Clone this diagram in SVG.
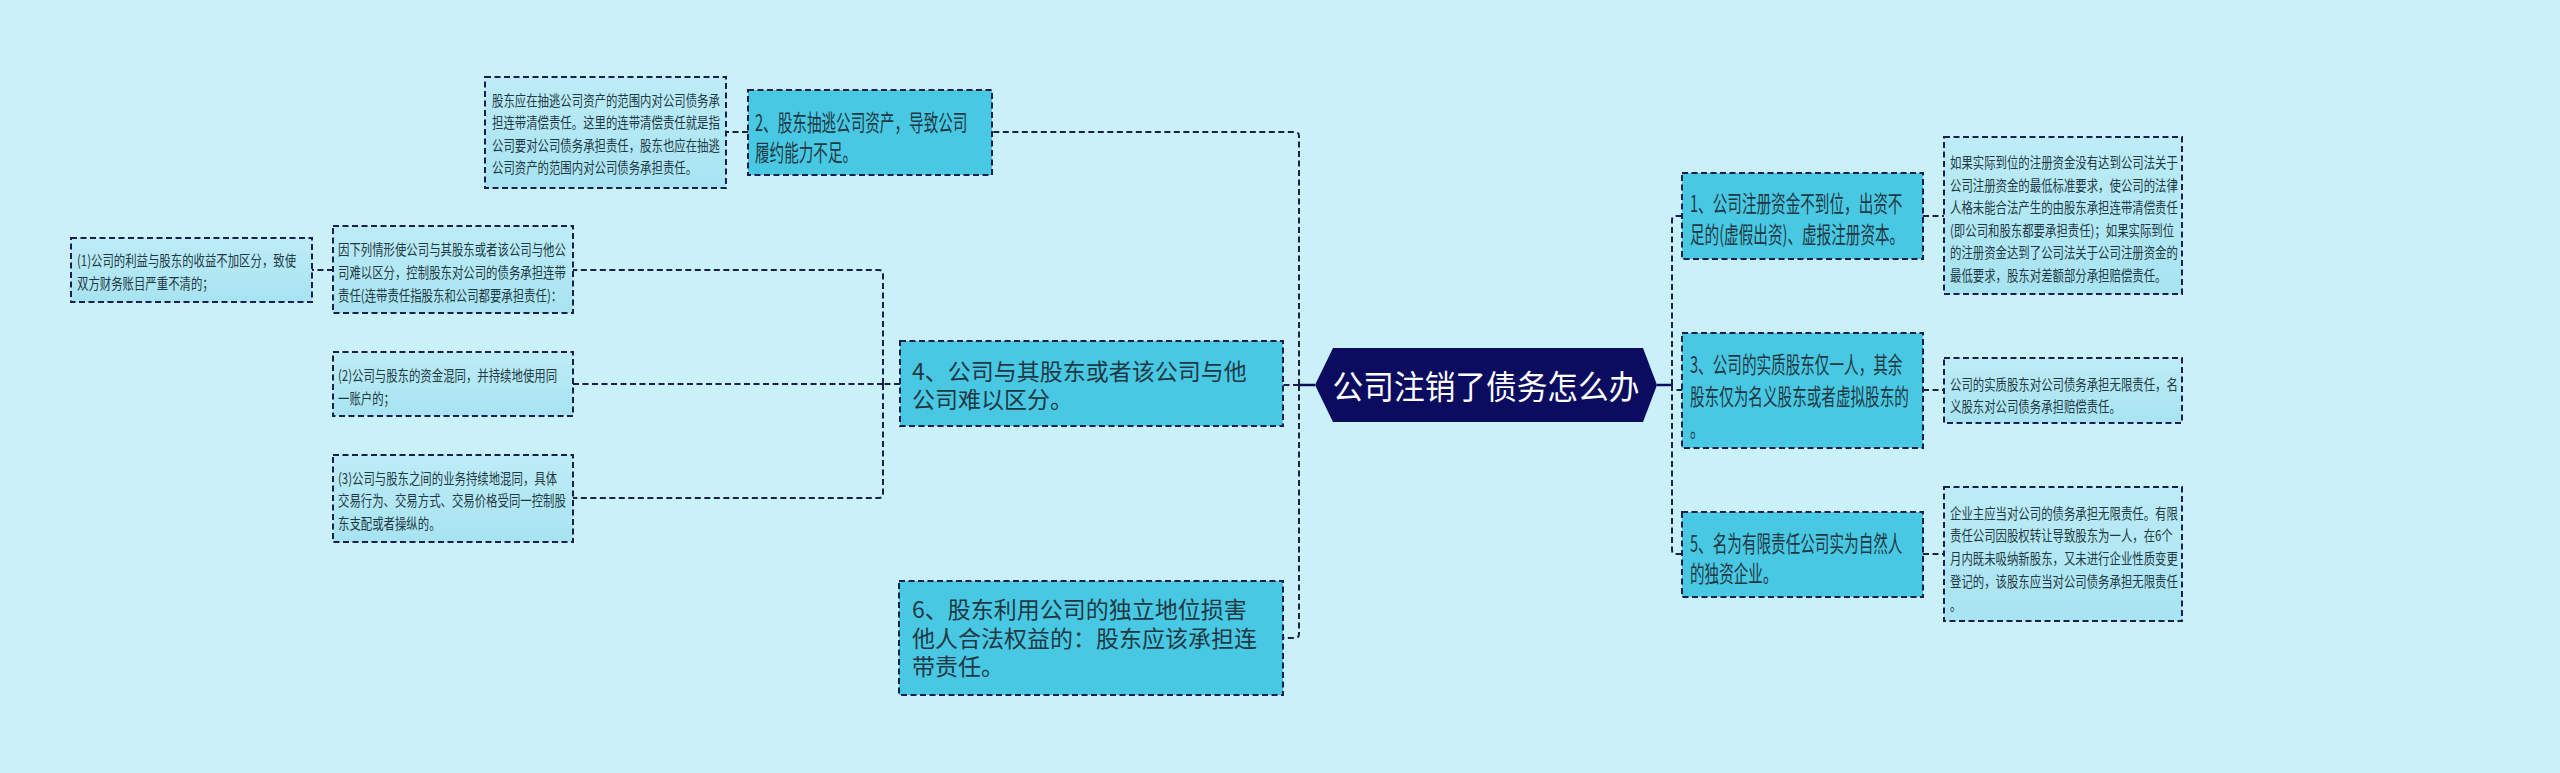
<svg xmlns="http://www.w3.org/2000/svg" width="2560" height="773" viewBox="0 0 2560 773">
<defs>
<linearGradient id="dg" x1="0" y1="0" x2="0" y2="1">
<stop offset="0" stop-color="#bdecf7"/>
<stop offset="1" stop-color="#a8e3f1"/>
</linearGradient>
<style>
.main{fill:#48c8e3;stroke:#1b1f50;stroke-width:2;stroke-dasharray:6 3.5}
.det{fill:url(#dg);stroke:#1b1f50;stroke-width:2;stroke-dasharray:6 3.5}
.con{fill:none;stroke:#1b1f50;stroke-width:2;stroke-dasharray:6 3.5}
.solid{fill:none;stroke:#0c0c5e;stroke-width:2.5}
.tm{font-family:"Noto Sans CJK SC","Noto Sans",sans-serif;font-size:23px;fill:#1f3944;dominant-baseline:central}
.td{font-family:"Noto Sans CJK SC","Noto Sans",sans-serif;font-size:15px;fill:#1f3944;dominant-baseline:central}
.tc{font-family:"Noto Sans CJK SC","Noto Sans",sans-serif;font-size:33px;fill:#ffffff;dominant-baseline:central;text-anchor:middle}
</style>
</defs>
<rect x="0" y="0" width="2560" height="773" fill="#caf0f8"/>

<g id="connectors">
<path class="solid" d="M1315,385 H1299"/>
<path class="con" d="M1299,385 V136 Q1299,132 1295,132 H992"/>
<path class="con" d="M1299,385 H1283"/>
<path class="con" d="M1299,385 V634 Q1299,638 1295,638 H1283"/>
<path class="con" d="M748,132 H726"/>
<path class="con" d="M900,384 H883"/>
<path class="con" d="M883,384 V274 Q883,270 879,270 H573"/>
<path class="con" d="M883,384 H573"/>
<path class="con" d="M883,384 V494 Q883,498 879,498 H573"/>
<path class="con" d="M333,270 H312"/>
<path class="solid" d="M1657,385 H1672"/>
<path class="con" d="M1672,385 V220 Q1672,216 1676,216 H1682"/>
<path class="con" d="M1672,385 V390 H1682"/>
<path class="con" d="M1672,385 V550 Q1672,554 1676,554 H1682"/>
<path class="con" d="M1923,216 H1944"/>
<path class="con" d="M1923,390 H1944"/>
<path class="con" d="M1923,554 H1944"/>
</g>

<g id="center">
<polygon points="1315,385 1333,348 1643,348 1657,385 1643,422 1333,422" fill="#0b0b5f"/>
<g transform="matrix(0.93 0 0 1 1486 0)"><text class="tc" x="0" y="385">公司注销了债务怎么办</text></g>
</g>

<g id="n2">
<rect class="main" x="748" y="90" width="244" height="85"/>
<g transform="matrix(0.635 0 0 1 755 0)"><text class="tm"><tspan x="0" y="121">2、股东抽逃公司资产，导致公司</tspan><tspan x="0" y="151">履约能力不足。</tspan></text></g>
</g>
<g id="n2d">
<rect class="det" x="485" y="77" width="241" height="111"/>
<g transform="matrix(0.76 0 0 1 492 0)"><text class="td"><tspan x="0" y="99">股东应在抽逃公司资产的范围内对公司债务承</tspan><tspan x="0" y="121.5">担连带清偿责任。这里的连带清偿责任就是指</tspan><tspan x="0" y="144">公司要对公司债务承担责任，股东也应在抽逃</tspan><tspan x="0" y="166.5">公司资产的范围内对公司债务承担责任。</tspan></text></g>
</g>

<g id="n4">
<rect class="main" x="900" y="341" width="383" height="85"/>
<text class="tm"><tspan x="912" y="369.5">4、公司与其股东或者该公司与他</tspan><tspan x="912" y="398">公司难以区分。</tspan></text>
</g>
<g id="n4a">
<rect class="det" x="333" y="226" width="240" height="87"/>
<g transform="matrix(0.76 0 0 1 338 0)"><text class="td"><tspan x="0" y="248">因下列情形使公司与其股东或者该公司与他公</tspan><tspan x="0" y="271">司难以区分，控制股东对公司的债务承担连带</tspan><tspan x="0" y="294">责任(连带责任指股东和公司都要承担责任)：</tspan></text></g>
</g>
<g id="n4a1">
<rect class="det" x="71" y="238" width="241" height="64"/>
<g transform="matrix(0.76 0 0 1 77 0)"><text class="td"><tspan x="0" y="259">(1)公司的利益与股东的收益不加区分，致使</tspan><tspan x="0" y="282">双方财务账目严重不清的；</tspan></text></g>
</g>
<g id="n4b">
<rect class="det" x="333" y="352" width="240" height="64"/>
<g transform="matrix(0.76 0 0 1 338 0)"><text class="td"><tspan x="0" y="374">(2)公司与股东的资金混同，并持续地使用同</tspan><tspan x="0" y="397">一账户的；</tspan></text></g>
</g>
<g id="n4c">
<rect class="det" x="333" y="455" width="240" height="87"/>
<g transform="matrix(0.76 0 0 1 338 0)"><text class="td"><tspan x="0" y="477">(3)公司与股东之间的业务持续地混同，具体</tspan><tspan x="0" y="499.5">交易行为、交易方式、交易价格受同一控制股</tspan><tspan x="0" y="522">东支配或者操纵的。</tspan></text></g>
</g>

<g id="n6">
<rect class="main" x="899" y="581" width="384" height="114"/>
<text class="tm"><tspan x="912" y="608">6、股东利用公司的独立地位损害</tspan><tspan x="912" y="637">他人合法权益的：股东应该承担连</tspan><tspan x="912" y="665">带责任。</tspan></text>
</g>

<g id="n1">
<rect class="main" x="1682" y="173" width="241" height="86"/>
<g transform="matrix(0.635 0 0 1 1690 0)"><text class="tm"><tspan x="0" y="202">1、公司注册资金不到位，出资不</tspan><tspan x="0" y="233">足的(虚假出资)、虚报注册资本。</tspan></text></g>
</g>
<g id="n1d">
<rect class="det" x="1944" y="137" width="238" height="157"/>
<g transform="matrix(0.76 0 0 1 1950 0)"><text class="td"><tspan x="0" y="161.5">如果实际到位的注册资金没有达到公司法关于</tspan><tspan x="0" y="184">公司注册资金的最低标准要求，使公司的法律</tspan><tspan x="0" y="206.5">人格未能合法产生的由股东承担连带清偿责任</tspan><tspan x="0" y="229">(即公司和股东都要承担责任)；如果实际到位</tspan><tspan x="0" y="251.5">的注册资金达到了公司法关于公司注册资金的</tspan><tspan x="0" y="274">最低要求，股东对差额部分承担赔偿责任。</tspan></text></g>
</g>

<g id="n3">
<rect class="main" x="1682" y="333" width="241" height="115"/>
<g transform="matrix(0.635 0 0 1 1690 0)"><text class="tm"><tspan x="0" y="363">3、公司的实质股东仅一人，其余</tspan><tspan x="0" y="395">股东仅为名义股东或者虚拟股东的</tspan><tspan x="0" y="427">。</tspan></text></g>
</g>
<g id="n3d">
<rect class="det" x="1944" y="358" width="238" height="65"/>
<g transform="matrix(0.76 0 0 1 1950 0)"><text class="td"><tspan x="0" y="383">公司的实质股东对公司债务承担无限责任，名</tspan><tspan x="0" y="405">义股东对公司债务承担赔偿责任。</tspan></text></g>
</g>

<g id="n5">
<rect class="main" x="1682" y="512" width="241" height="85"/>
<g transform="matrix(0.635 0 0 1 1690 0)"><text class="tm"><tspan x="0" y="542">5、名为有限责任公司实为自然人</tspan><tspan x="0" y="572">的独资企业。</tspan></text></g>
</g>
<g id="n5d">
<rect class="det" x="1944" y="487" width="238" height="134"/>
<g transform="matrix(0.76 0 0 1 1950 0)"><text class="td"><tspan x="0" y="512">企业主应当对公司的债务承担无限责任。有限</tspan><tspan x="0" y="534.5">责任公司因股权转让导致股东为一人，在6个</tspan><tspan x="0" y="557">月内既未吸纳新股东，又未进行企业性质变更</tspan><tspan x="0" y="580">登记的，该股东应当对公司债务承担无限责任</tspan><tspan x="0" y="603">。</tspan></text></g>
</g>
</svg>
